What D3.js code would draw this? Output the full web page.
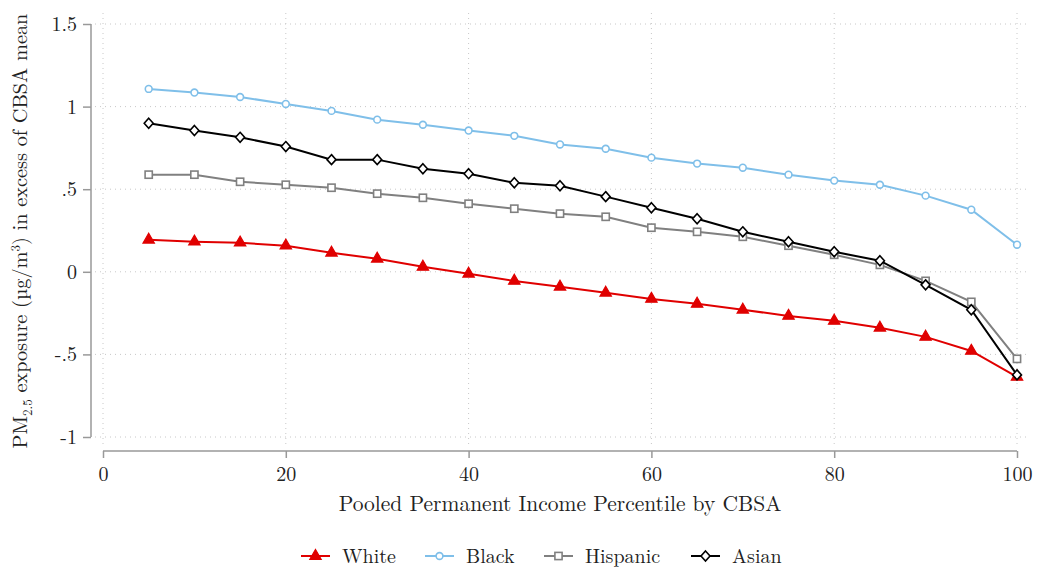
<!DOCTYPE html>
<html>
<head>
<meta charset="utf-8">
<script src="https://cdn.jsdelivr.net/npm/d3@7"></script>
<style>
  body { margin: 0; background: #fff; }
  svg text { font-family: "Latin Modern Roman", "CMU Serif", "Liberation Serif", serif; fill: #222; }
</style>
</head>
<body>
<div class="chart"></div>
<script>
// percentiles (x)
const PCTS = [5, 10, 15, 20, 25, 30, 35, 40, 45, 50, 55, 60, 65, 70, 75, 80, 85, 90, 95, 100];

// PM2.5 exposure in excess of CBSA mean
const WHITE = [0.194, 0.182, 0.176, 0.158, 0.115, 0.079, 0.030, -0.012, -0.055, -0.091,
               -0.127, -0.164, -0.194, -0.230, -0.267, -0.297, -0.339, -0.394, -0.479, -0.636];
const BLACK = [1.107, 1.085, 1.058, 1.016, 0.974, 0.921, 0.890, 0.855, 0.823, 0.771,
               0.745, 0.691, 0.655, 0.630, 0.588, 0.552, 0.527, 0.461, 0.376, 0.164];
const HISPANIC = [0.588, 0.588, 0.545, 0.527, 0.509, 0.473, 0.448, 0.412, 0.382, 0.352,
                  0.333, 0.267, 0.242, 0.212, 0.158, 0.103, 0.042, -0.055, -0.182, -0.527];
const ASIAN = [0.899, 0.855, 0.814, 0.758, 0.679, 0.679, 0.624, 0.594, 0.539, 0.521,
               0.455, 0.388, 0.321, 0.242, 0.182, 0.121, 0.067, -0.079, -0.230, -0.624];

const Y_TICKS = [-1, -0.5, 0, 0.5, 1, 1.5];
const X_TICKS = [0, 20, 40, 60, 80, 100];

const SERIES = [
  {name: "White", values: WHITE, color: "#e00000", marker: "triangle"},
  {name: "Black", values: BLACK, color: "#7fbfe9", marker: "circle"},
  {name: "Hispanic", values: HISPANIC, color: "#808080", marker: "square"},
  {name: "Asian", values: ASIAN, color: "#000000", marker: "diamond"},
];

const W = 1037, H = 571;
const FONT = "'Latin Modern Roman', 'CMU Serif', 'Liberation Serif', serif";

const svg = d3.select(".chart").append("svg")
  .attr("width", W).attr("height", H);

// scales - matched to the stata layout
const x = d3.scaleLinear().domain([0, 100]).range([103, 1017]);
const y = d3.scaleLinear().domain([-1, 1.5]).range([437, 24]);

function fmtY(d) {
  if (d === 0) return "0";
  return String(d).replace(/^(-?)0\./, "$1.");
}

// gridlines (dotted)
const grid = svg.append("g").attr("class", "grid");
grid.selectAll(".hgrid").data(Y_TICKS).enter().append("line")
  .attr("x1", 95).attr("x2", 1030)
  .attr("y1", d => y(d)).attr("y2", d => y(d))
  .attr("stroke", "#c8c8c8").attr("stroke-width", 1)
  .attr("stroke-dasharray", "1,4");
grid.selectAll(".vgrid").data(X_TICKS).enter().append("line")
  .attr("x1", d => x(d)).attr("x2", d => x(d))
  .attr("y1", 13).attr("y2", 447)
  .attr("stroke", "#c8c8c8").attr("stroke-width", 1)
  .attr("stroke-dasharray", "1,4");

// y axis
const yAxis = svg.append("g")
  .attr("transform", "translate(91,0)")
  .call(d3.axisLeft(y).tickValues(Y_TICKS).tickFormat(fmtY).tickSize(8).tickPadding(6));
yAxis.select(".domain").attr("stroke", "#999").attr("stroke-width", 1.5).attr("d", `M0,${y(1.5)}V${y(-1)}`);
yAxis.selectAll(".tick line").attr("stroke", "#999").attr("stroke-width", 1.5);
yAxis.selectAll(".tick text").attr("font-size", 20).attr("fill", "#222").attr("font-family", FONT);

// x axis
const xAxis = svg.append("g")
  .attr("transform", "translate(0,451)")
  .call(d3.axisBottom(x).tickValues(X_TICKS).tickSize(7).tickPadding(9));
xAxis.select(".domain").attr("stroke", "#999").attr("stroke-width", 1.5).attr("d", `M${x(0)},0H${x(100)}`);
xAxis.selectAll(".tick line").attr("stroke", "#999").attr("stroke-width", 1.5);
xAxis.selectAll(".tick text").attr("font-size", 20).attr("fill", "#222").attr("font-family", FONT);

// axis titles
svg.append("text")
  .attr("x", 560).attr("y", 511)
  .attr("text-anchor", "middle").attr("font-size", 21.5)
  .text("Pooled Permanent Income Percentile by CBSA");

const yt = svg.append("text")
  .attr("transform", "translate(27,231) rotate(-90)")
  .attr("text-anchor", "middle").attr("font-size", 20.3);
yt.append("tspan").text("PM");
yt.append("tspan").attr("font-size", 13).attr("dy", 5).text("2.5");
yt.append("tspan").attr("dy", -5).text(" exposure (\u00b5g/m");
yt.append("tspan").attr("font-size", 13).attr("dy", -7).text("3");
yt.append("tspan").attr("dy", 7).text(") in excess of CBSA mean");

// markers
function drawMarker(g, type, color) {
  if (type === "triangle") {
    g.append("path").attr("d", d3.symbol(d3.symbolTriangle, 56)())
      .attr("fill", color).attr("stroke", color).attr("stroke-width", 1.2);
  } else if (type === "circle") {
    g.append("circle").attr("r", 3.4)
      .attr("fill", "#fff").attr("stroke", color).attr("stroke-width", 1.6);
  } else if (type === "square") {
    g.append("rect").attr("x", -3.6).attr("y", -3.6).attr("width", 7.2).attr("height", 7.2)
      .attr("fill", "#fff").attr("stroke", color).attr("stroke-width", 1.6);
  } else {
    g.append("path").attr("d", "M0,-5L4.5,0L0,5L-4.5,0Z")
      .attr("fill", "#fff").attr("stroke", color).attr("stroke-width", 1.6);
  }
}

const line = d3.line().x(d => x(d[0])).y(d => y(d[1]));

SERIES.forEach(s => {
  const pts = PCTS.map((p, i) => [p, s.values[i]]);
  const g = svg.append("g").attr("class", "series");
  g.append("path").datum(pts)
    .attr("d", line).attr("fill", "none")
    .attr("stroke", s.color).attr("stroke-width", 2);
  pts.forEach(p => {
    const m = g.append("g").attr("transform", `translate(${x(p[0])},${y(p[1])})`);
    drawMarker(m, s.marker, s.color);
  });
});

// legend
const LEG_X = [301, 425, 544, 691];
const leg = svg.append("g").attr("class", "legend");
SERIES.forEach((s, i) => {
  const g = leg.append("g").attr("transform", `translate(${LEG_X[i]},556)`);
  g.append("line").attr("x1", 0).attr("x2", 29).attr("y1", 0).attr("y2", 0)
    .attr("stroke", s.color).attr("stroke-width", 2);
  const m = g.append("g").attr("transform", "translate(14.5,0)");
  drawMarker(m, s.marker, s.color);
  g.append("text").attr("x", 41).attr("y", 7).attr("font-size", 20).text(s.name);
});
</script>
</body>
</html>
